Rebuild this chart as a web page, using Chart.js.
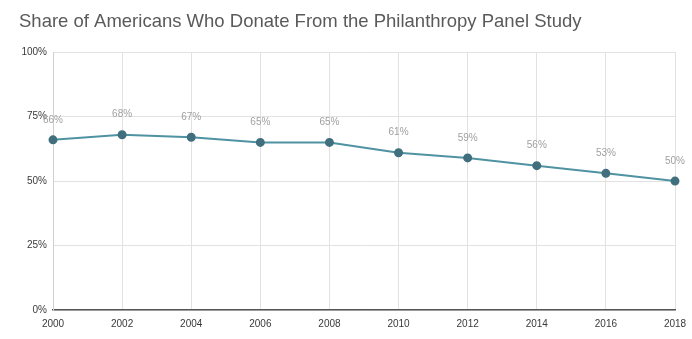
<!DOCTYPE html>
<html>
<head>
<meta charset="utf-8">
<script src="https://cdn.jsdelivr.net/npm/chart.js@4"></script>
<style>
  html, body { margin: 0; padding: 0; background: #fff; }
  #wrap { width: 692px; height: 339px; }
</style>
</head>
<body>
<div id="wrap"><canvas id="myChart" width="692" height="339"></canvas></div>
<script>
const years = ['2000', '2002', '2004', '2006', '2008', '2010', '2012', '2014', '2016', '2018'];
const donateShare = [66, 68, 67, 65, 65, 61, 59, 56, 53, 50];
const yTicks = [0, 25, 50, 75, 100];

const lineColor = '#4f93a3';
const pointColor = '#416f7e';

// labels above each point, like the original
const pointLabels = {
    id: 'pointLabels',
    afterDatasetsDraw(chart) {
        const ctx = chart.ctx;
        const meta = chart.getDatasetMeta(0);
        ctx.save();
        ctx.font = '10px Arial, "Liberation Sans", sans-serif';
        ctx.fillStyle = '#a0a0a0';
        ctx.textAlign = 'center';
        ctx.textBaseline = 'middle';
        meta.data.forEach((pt, i) => {
            ctx.fillText(donateShare[i] + '%', pt.x, pt.y - 20);
        });
        ctx.restore();
    }
};

Chart.defaults.font.family = 'Arial, "Liberation Sans", sans-serif';
Chart.defaults.color = '#444';

new Chart(document.getElementById('myChart'), {
    type: 'line',
    data: {
        labels: years,
        datasets: [{
            data: donateShare,
            borderColor: lineColor,
            borderWidth: 2,
            backgroundColor: pointColor,
            pointBackgroundColor: pointColor,
            pointBorderColor: pointColor,
            pointRadius: 3.5,
            tension: 0
        }]
    },
    options: {
        responsive: false,
        animation: false,
        layout: { padding: { top: 1, left: 19, right: 17, bottom: 0 } },
        scales: {
            x: {
                offset: false,
                grid: { color: '#e2e2e2', drawTicks: false },
                border: { color: '#555', width: 1.5 },
                ticks: { font: { size: 10 }, color: '#3a3a3a', padding: 8, maxRotation: 0 },
                afterFit(scale) {
                    scale.height = 29;
                    scale.paddingLeft = 0;
                    scale.paddingRight = 0;
                }
            },
            y: {
                min: 0,
                max: 100,
                afterBuildTicks(scale) { scale.ticks = yTicks.map(v => ({ value: v })); },
                grid: { color: '#e2e2e2', drawTicks: false },
                border: { color: '#d0d0d0' },
                ticks: {
                    font: { size: 10 },
                    color: '#3a3a3a',
                    padding: 6,
                    callback: v => v + '%'
                },
                afterFit(scale) { scale.width = 34; }
            }
        },
        plugins: {
            legend: { display: false },
            tooltip: { enabled: false },
            title: {
                display: true,
                text: 'Share of Americans Who Donate From the Philanthropy Panel Study',
                align: 'start',
                color: '#5a5a5a',
                font: { size: 18.5, weight: 'normal' },
                padding: { top: 10, bottom: 19 }
            }
        }
    },
    plugins: [pointLabels]
});
</script>
</body>
</html>
